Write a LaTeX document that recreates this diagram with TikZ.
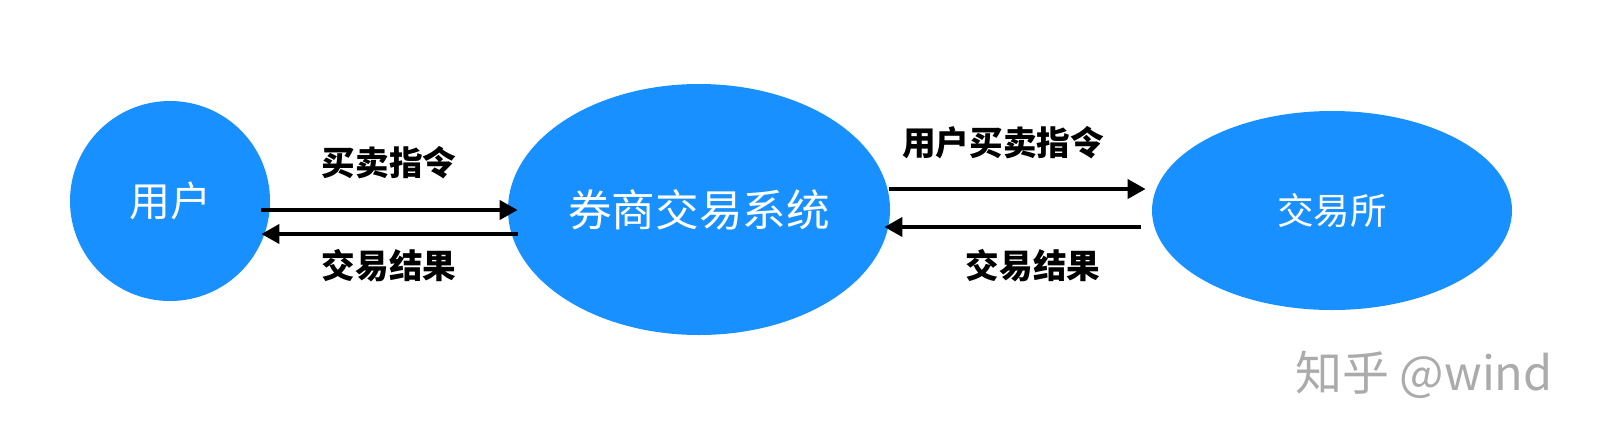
\documentclass[tikz,border=0pt]{standalone}
\usepackage{fontspec}
\newfontfamily\cjk{Noto Sans CJK SC}
\usepackage{xcolor}
\usetikzlibrary{arrows.meta, shapes.geometric}
\definecolor{nodeblue}{RGB}{24,144,255}

\begin{document}
\begin{tikzpicture}[
    x=0.5pt,  % 1 px
    y=-0.5pt, % 上から下へ
    >={Triangle[length=9pt, width=9.5pt]},
    blob/.style={ellipse, fill=nodeblue, draw=none, inner sep=0pt, text=white},
    flow/.style={->, line width=2pt, black},
    msg/.style={font=\cjk\bfseries\fontsize{16.8pt}{20pt}\selectfont, text=black}
]
    \useasboundingbox (0,0) rectangle (1598,440);

    % --- 三つのノード ---
    \node[blob, minimum width=100pt, minimum height=100pt,
        font=\cjk\fontsize{20.5pt}{24pt}\selectfont] (user) at (170,201) {用户};
    \node[blob, minimum width=191pt, minimum height=125.5pt,
        font=\cjk\fontsize{21.8pt}{26pt}\selectfont] (broker) at (699,209.5) {券商交易系统};
    \node[blob, minimum width=180pt, minimum height=99.5pt,
        font=\cjk\fontsize{18.3pt}{22pt}\selectfont] (exchange) at (1332,210.5) {交易所};

    % --- 用户 <-> 券商 ---
    \draw[flow] ([shift={(-9,9)}]user.east) -- ([shift={(10,0.5)}]broker.west);
    \draw[flow] ([shift={(10,24.5)}]broker.west) -- ([shift={(-9,33)}]user.east);
    \node[msg] (order) at (389,163) {买卖指令};
    \node[msg] (result) at (389,266) {交易结果};

    % --- 券商 <-> 交易所 ---
    \draw[flow] ([shift={(-1,-20.5)}]broker.east) -- ([shift={(-6,-21.5)}]exchange.west);
    \draw[flow] ([shift={(-11,16.5)}]exchange.west) -- ([shift={(-6,17.5)}]broker.east);
    \node[msg] (userorder) at (1003,143) {用户买卖指令};
    \node[msg] (exresult) at (1033,266) {交易结果};

    % --- 透かし ---
    \node[font=\cjk\fontsize{23.5pt}{28pt}\selectfont, text=black!33] (mark) at (1424,375) {知乎 @wind};

\end{tikzpicture}
\end{document}
